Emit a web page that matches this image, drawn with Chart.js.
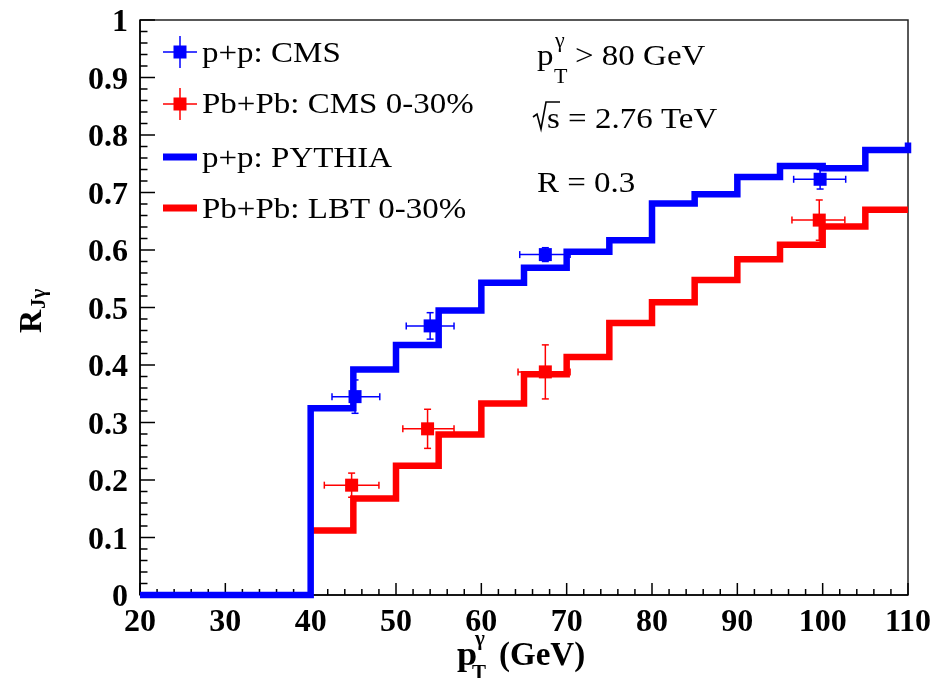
<!DOCTYPE html>
<html><head><meta charset="utf-8">
<script src="https://cdn.jsdelivr.net/npm/chart.js@4.4.0/dist/chart.umd.min.js"></script>
<style>html,body{margin:0;padding:0;background:#fff;}#wrap{width:941px;height:678px;}</style>
</head><body><div id="wrap"><canvas id="c" width="941" height="678"></canvas></div>
<script>
// ---- data ----
const xTicks = [20,30,40,50,60,70,80,90,100,110];
const yTicks = [0,0.1,0.2,0.3,0.4,0.5,0.6,0.7,0.8,0.9,1];
const yTickLabels = ['0','0.1','0.2','0.3','0.4','0.5','0.6','0.7','0.8','0.9','1'];

const pythiaEdges = [20,40,45,50,55,60,65,70,75,80,85,90,95,100,105,110];
const pythiaValues = [0,0.325,0.392,0.435,0.495,0.543,0.569,0.597,0.617,0.681,0.697,0.727,0.746,0.742,0.774];
const pythiaNextBin = 0.787;

const lbtEdges = [40,45,50,55,60,65,70,75,80,85,90,95,100,105,110];
const lbtValues = [0.112,0.168,0.225,0.279,0.333,0.384,0.414,0.473,0.509,0.548,0.584,0.609,0.641,0.670];

const ppX = [45.2,54.0,67.5,99.7];
const ppY = [0.345,0.468,0.592,0.723];
const ppXLow = [42.5,51.2,64.5,96.6];
const ppXHigh = [48.1,56.8,70.4,102.7];
const ppYErr = [0.029,0.023,0.012,0.017];

const aaX = [44.8,53.7,67.5,99.6];
const aaY = [0.191,0.289,0.388,0.652];
const aaXLow = [41.6,50.8,64.3,96.4];
const aaXHigh = [48.0,56.8,70.4,102.6];
const aaYErr = [0.021,0.034,0.047,0.035];

const BLUE = '#0000ff', RED = '#ff0000';
const SERIF = '"Liberation Serif","Times New Roman",serif';

const pythiaPts = pythiaEdges.map((e,i)=>({x:e, y: i<pythiaValues.length ? pythiaValues[i] : pythiaNextBin}));
const lbtPts = lbtEdges.map((e,i)=>({x:e, y: lbtValues[Math.min(i, lbtValues.length-1)]}));
const ppPts = ppX.map((v,i)=>({x:v, y:ppY[i]}));
const aaPts = aaX.map((v,i)=>({x:v, y:aaY[i]}));

function txt(ctx, s, x, y, font, hs){
  ctx.save(); ctx.font = font; ctx.translate(x, y); ctx.scale(hs||1, 1);
  ctx.fillText(s, 0, 0); const w = ctx.measureText(s).width*(hs||1); ctx.restore(); return w;
}
function line(ctx, x1,y1,x2,y2){ ctx.beginPath(); ctx.moveTo(x1,y1); ctx.lineTo(x2,y2); ctx.stroke(); }

function errBars(ctx, xs, ys, xlo, xhi, yerr, color, sx, sy){
  ctx.save(); ctx.strokeStyle = color; ctx.lineWidth = 1.5;
  for (let i=0;i<xs.length;i++){
    const px = sx.getPixelForValue(xs[i]), py = sy.getPixelForValue(ys[i]);
    const l = sx.getPixelForValue(xlo[i]), r = sx.getPixelForValue(xhi[i]);
    const t = sy.getPixelForValue(ys[i]+yerr[i]), b = sy.getPixelForValue(ys[i]-yerr[i]);
    line(ctx, l, py, r, py); line(ctx, l, py-3.5, l, py+3.5); line(ctx, r, py-3.5, r, py+3.5);
    line(ctx, px, t, px, b); line(ctx, px-3.5, t, px+3.5, t); line(ctx, px-3.5, b, px+3.5, b);
  }
  ctx.restore();
}

const deco = {
  id: 'deco',
  beforeDatasetsDraw(chart){
    const {ctx, chartArea:a, scales:{x,y}} = chart;
    ctx.save();
    ctx.strokeStyle = '#222'; ctx.lineWidth = 1.5;
    ctx.strokeRect(a.left, a.top, a.right-a.left, a.bottom-a.top);
    ctx.strokeStyle = '#000'; ctx.lineWidth = 1.5;
    line(ctx, a.left, a.top, a.left, a.bottom);
    line(ctx, a.left, a.bottom, a.right, a.bottom);
    for (let i=0;i<=50;i++){
      const py = y.getPixelForValue(i/50);
      const len = (i%5===0) ? 15 : 7.5;
      line(ctx, a.left, py, a.left+len, py);
    }
    for (let i=0;i<=45;i++){
      const px = x.getPixelForValue(20+i*2);
      const len = (i%5===0) ? 12 : 6;
      line(ctx, px, a.bottom, px, a.bottom-len);
    }
    ctx.restore();
  },
  afterDatasetsDraw(chart){
    const {ctx, scales:{x,y}} = chart;
    errBars(ctx, ppX, ppY, ppXLow, ppXHigh, ppYErr, BLUE, x, y);
    errBars(ctx, aaX, aaY, aaXLow, aaXHigh, aaYErr, RED, x, y);
  },
  afterDraw(chart){
    const ctx = chart.ctx;
    ctx.save();
    ctx.fillStyle = '#000'; ctx.textBaseline = 'alphabetic'; ctx.textAlign = 'left';
    // legend
    const reg = '30px ' + SERIF;
    ctx.strokeStyle = BLUE; ctx.lineWidth = 1.5;
    line(ctx, 163, 52, 197, 52); line(ctx, 180, 36, 180, 68);
    ctx.fillStyle = BLUE; ctx.fillRect(173.5, 45.5, 13, 13);
    ctx.strokeStyle = RED;
    line(ctx, 163, 104, 197, 104); line(ctx, 180, 88, 180, 120);
    ctx.fillStyle = RED; ctx.fillRect(173.5, 97.5, 13, 13);
    ctx.lineWidth = 7; ctx.lineCap = 'butt';
    ctx.strokeStyle = BLUE; line(ctx, 163, 157, 197, 157);
    ctx.strokeStyle = RED; line(ctx, 163, 208, 197, 208);
    ctx.fillStyle = '#000';
    txt(ctx, 'p+p: CMS', 202, 62, reg, 1.1);
    txt(ctx, 'Pb+Pb: CMS 0-30%', 202, 113, reg, 1.1);
    txt(ctx, 'p+p: PYTHIA', 202, 167, reg, 1.1);
    txt(ctx, 'Pb+Pb: LBT 0-30%', 202, 218, reg, 1.1);
    // annotations
    const small = '20px ' + SERIF;
    txt(ctx, 'p', 537, 65, reg, 1.1);
    txt(ctx, 'T', 554, 83, small, 1.1);
    txt(ctx, 'γ', 555, 47, small, 1.1);
    txt(ctx, '> 80 GeV', 575, 65, reg, 1.1);
    ctx.strokeStyle = '#000'; ctx.lineWidth = 1.6;
    ctx.beginPath(); ctx.moveTo(533, 117); ctx.lineTo(537, 114); ctx.lineTo(541, 129); ctx.lineTo(546, 102); ctx.lineTo(560, 102); ctx.stroke();
    txt(ctx, 's = 2.76 TeV', 547, 128, reg, 1.1);
    txt(ctx, 'R = 0.3', 537, 192, reg, 1.1);
    // y title
    ctx.save(); ctx.translate(41, 333); ctx.rotate(-Math.PI/2);
    const wR = txt(ctx, 'R', 0, 0, 'bold 32px ' + SERIF, 1);
    txt(ctx, 'Jγ', wR+1, 4, 'bold 21px ' + SERIF, 1);
    ctx.restore();
    // x title
    txt(ctx, 'p', 457, 665, 'bold 33px ' + SERIF, 1.1);
    txt(ctx, 'T', 472, 679, 'bold 20px ' + SERIF, 1.05);
    txt(ctx, 'γ', 475, 645, 'bold 20px ' + SERIF, 1.05);
    txt(ctx, '(GeV)', 499, 665, 'bold 33px ' + SERIF, 1.0);
    ctx.restore();
  }
};

new Chart(document.getElementById('c'), {
  type: 'scatter',
  data: { datasets: [
    { label:'p+p: CMS', data: ppPts, pointStyle:'rect', pointRadius:9.2, backgroundColor:BLUE, borderWidth:0, order:1, clip:false },
    { label:'Pb+Pb: CMS 0-30%', data: aaPts, pointStyle:'rect', pointRadius:9.2, backgroundColor:RED, borderWidth:0, order:2, clip:false },
    { label:'p+p: PYTHIA', data: pythiaPts, showLine:true, stepped:'before', borderColor:BLUE, borderWidth:6.5, pointRadius:0, borderJoinStyle:'miter', borderCapStyle:'butt', order:3, clip:false },
    { label:'Pb+Pb: LBT 0-30%', data: lbtPts, showLine:true, stepped:'before', borderColor:RED, borderWidth:6.5, pointRadius:0, borderJoinStyle:'miter', borderCapStyle:'butt', order:4, clip:false }
  ]},
  options: {
    responsive:false, animation:false, devicePixelRatio:1, events:[],
    layout:{ padding:{ left:0, top:20, right:33, bottom:0 } },
    plugins:{ legend:{display:false}, tooltip:{enabled:false} },
    scales:{
      x:{ type:'linear', min:20, max:110,
        afterBuildTicks: s => { s.ticks = xTicks.map(v=>({value:v})); },
        afterFit: s => { s.height = 83; },
        grid:{display:false}, border:{display:false},
        ticks:{ color:'#000', font:{family:SERIF, size:32, weight:'bold', lineHeight:1}, padding:4, maxRotation:0, autoSkip:false,
          callback: v => String(v) } },
      y:{ type:'linear', min:0, max:1,
        afterBuildTicks: s => { s.ticks = yTicks.map(v=>({value:v})); },
        afterFit: s => { s.width = 140; },
        grid:{display:false}, border:{display:false},
        ticks:{ color:'#000', font:{family:SERIF, size:32, weight:'bold', lineHeight:1}, padding:4, labelOffset:3, autoSkip:false,
          callback: (v) => { const i = yTicks.findIndex(t=>Math.abs(t-v)<1e-6); return i>=0 ? yTickLabels[i] : ''; } } }
    }
  },
  plugins:[deco]
});
</script></body></html>
